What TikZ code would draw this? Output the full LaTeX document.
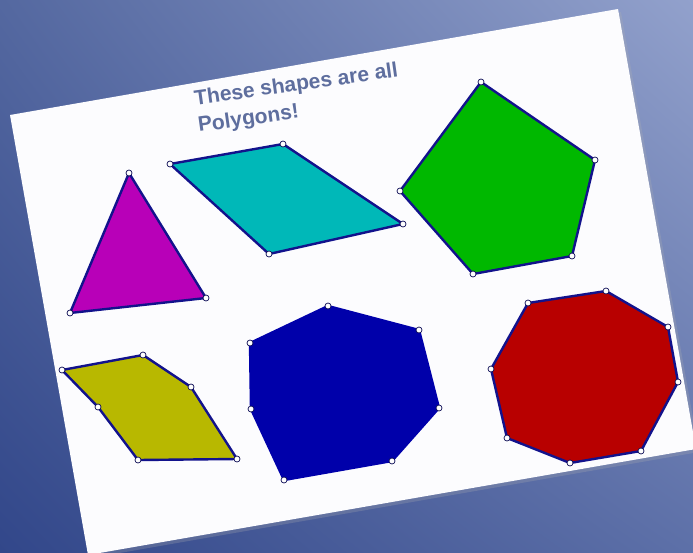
\documentclass[tikz,border=0pt]{standalone}
\usepackage{fontspec}
\setmainfont{Liberation Sans}
\usetikzlibrary{shadings}
\definecolor{bgTL}{HTML}{5468A0}
\definecolor{bgTR}{HTML}{92A1CC}
\definecolor{bgBL}{HTML}{32478A}
\definecolor{bgBR}{HTML}{5D70A8}
\definecolor{cardcol}{HTML}{FCFCFE}
\definecolor{edgeblue}{HTML}{12128C}
\definecolor{titlecol}{HTML}{5E6E9E}
\definecolor{cmag}{HTML}{B800B8}
\definecolor{ccyan}{HTML}{00B8B8}
\definecolor{cgreen}{HTML}{00B800}
\definecolor{colive}{HTML}{B8B800}
\definecolor{cblue}{HTML}{0000AA}
\definecolor{cred}{HTML}{B80000}
\begin{document}
\begin{tikzpicture}[x=1pt,y=-1pt,
  poly/.style={draw=edgeblue, line width=2.4pt, line join=round},
  vtx/.style={circle, draw=edgeblue!60!black, fill=white, inner sep=0pt, minimum size=6pt, line width=0.7pt},
  title/.style={text=titlecol, font=\fontsize{21}{27}\selectfont\bfseries, align=left, anchor=north west, rotate=8, inner sep=0pt}]
\useasboundingbox (0,0) rectangle (693,552);
\shade[shading=bilinear interpolation, upper left=bgTL, upper right=bgTR, lower left=bgBL, lower right=bgBR] (0,0) rectangle (693,552);
% card
\fill[black!30, opacity=0.25] (13,118) -- (621,12) -- (699,452) -- (91,558) -- cycle;
\fill[cardcol] (10,115) -- (618,9) -- (696,449) -- (88,555) -- cycle;
% title
\node[title] (title) at (193,90) {These shapes are all\\Polygons!};
% triangle
\coordinate (t1) at (129,173); \coordinate (t2) at (206,298); \coordinate (t3) at (70,313);
\filldraw[poly, fill=cmag] (t1) -- (t2) -- (t3) -- cycle;
% cyan quadrilateral
\coordinate (c1) at (170,164); \coordinate (c2) at (283,144); \coordinate (c3) at (403,224); \coordinate (c4) at (269,254);
\filldraw[poly, fill=ccyan] (c1) -- (c2) -- (c3) -- (c4) -- cycle;
% green pentagon
\coordinate (g1) at (481,82); \coordinate (g2) at (595,160); \coordinate (g3) at (572,256); \coordinate (g4) at (473,274); \coordinate (g5) at (400,191);
\filldraw[poly, fill=cgreen] (g1) -- (g2) -- (g3) -- (g4) -- (g5) -- cycle;
% olive hexagon
\coordinate (y1) at (62,370); \coordinate (y2) at (143,355); \coordinate (y3) at (191,387); \coordinate (y4) at (237,459); \coordinate (y5) at (138,460); \coordinate (y6) at (98,407);
\filldraw[poly, fill=colive] (y1) -- (y2) -- (y3) -- (y4) -- (y5) -- (y6) -- cycle;
% blue heptagon
\coordinate (b1) at (328,306); \coordinate (b2) at (419,330); \coordinate (b3) at (439,408); \coordinate (b4) at (392,461); \coordinate (b5) at (284,480); \coordinate (b6) at (251,409); \coordinate (b7) at (250,343);
\filldraw[poly, draw=cblue, fill=cblue] (b1) -- (b2) -- (b3) -- (b4) -- (b5) -- (b6) -- (b7) -- cycle;
% red octagon
\coordinate (r1) at (528,303); \coordinate (r2) at (606,291); \coordinate (r3) at (668,327); \coordinate (r4) at (678,382); \coordinate (r5) at (641,451); \coordinate (r6) at (570,463); \coordinate (r7) at (507,438); \coordinate (r8) at (491,369);
\filldraw[poly, fill=cred] (r1) -- (r2) -- (r3) -- (r4) -- (r5) -- (r6) -- (r7) -- (r8) -- cycle;
% vertex dots
\foreach \p in {t1,t2,t3,c1,c2,c3,c4,g1,g2,g3,g4,g5,y1,y2,y3,y4,y5,y6,b1,b2,b3,b4,b5,b6,b7,r1,r2,r3,r4,r5,r6,r7,r8}
  \node[vtx] (v-\p) at (\p) {};
\end{tikzpicture}
\end{document}
